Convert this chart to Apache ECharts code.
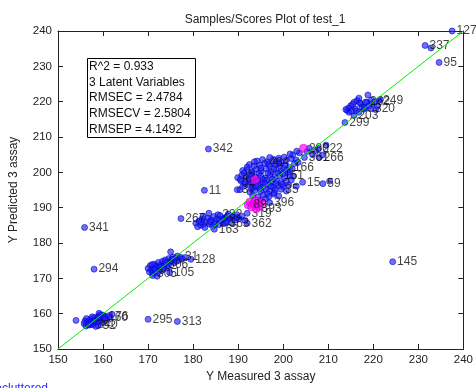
<!DOCTYPE html>
<html>
<head>
<meta charset="utf-8">
<script src="https://cdn.jsdelivr.net/npm/echarts/dist/echarts.min.js"></script>
<style>
  html, body { margin: 0; padding: 0; background: #fff; }
  #chart { width: 476px; height: 388px; }
</style>
</head>
<body>
<div id="chart"></div>
<script>
// Axis ticks (shared by measured and predicted axes)
const tickValues = [150, 160, 170, 180, 190, 200, 210, 220, 230, 240];

// Calibration / validation samples: measured vs predicted assay, with sample labels
const blueMeasured = [
  237.5, 231.5, 232.8, 234.6, 183.4, 182.5, 204.3, 208.8, 210.3, 213.7, 224.3, 155.9, 158.0, 177.3, 170.0, 176.5, 154.0,
  155.8, 156.2, 156.5, 157.0, 157.2, 157.5, 157.8, 158.0, 158.3, 158.6, 158.9, 159.0, 159.2, 159.5, 159.8, 160.0, 160.2, 160.5, 160.8, 161.2, 161.6, 162.0, 156.8, 157.6, 158.4, 159.1, 156.0, 157.0, 158.2,
  170.0, 170.3, 170.5, 170.8, 171.0, 171.2, 171.4, 171.6, 171.9, 172.1, 172.3, 172.5, 172.8, 173.0, 173.2, 173.5, 173.8, 174.0, 174.3, 174.6, 174.8, 174.9, 175.0, 175.2, 175.5, 175.8, 176.1, 176.5, 176.8, 177.2, 177.6, 171.0, 172.0, 179.5, 178.3,
  180.6, 181.0, 181.3, 181.7, 182.0, 182.3, 182.6, 183.0, 183.3, 183.6, 184.0, 184.3, 184.7, 184.6, 185.0, 185.5, 185.3, 185.7, 186.0, 186.3, 186.7, 187.0, 187.1, 187.4, 187.8, 188.1, 188.5, 188.9, 189.3, 189.7, 190.2, 190.8, 191.5, 183.5, 182.2, 192.0, 192.0,
  194.2, 195.4, 196.5, 197.8, 198.6, 199.5, 200.7, 201.8,
  192.5, 193.5, 194.8, 195.9, 197.0, 198.2, 199.3, 200.4, 201.4, 202.5,
  191.0, 192.0, 193.0, 194.0, 195.1, 196.2, 197.3, 198.4, 199.6, 200.8,
  189.9, 190.8, 191.8, 192.8, 193.9, 195.0, 196.0, 197.1, 198.1, 199.2, 200.3, 201.4,
  190.6, 191.6, 192.5, 193.4, 194.4, 195.3, 196.3, 197.4, 198.5, 199.6, 200.7, 202.9,
  191.0, 192.2, 193.3, 194.5, 195.6, 196.7, 197.8, 198.9, 200.0, 201.2,
  189.8, 190.4, 192.6, 193.8, 195.0, 196.2, 197.0, 198.2, 199.5, 200.7,
  193.2, 194.4, 195.6, 196.8, 197.9, 199.0,
  194.9, 196.1, 197.0,
  202.1, 202.9, 203.6, 204.7, 205.3, 205.8, 206.5, 207.2, 208.0, 207.8, 208.7, 209.5, 203.0, 201.5,
  214.2, 215.0, 215.7, 216.4, 217.2, 218.8, 218.6, 219.7, 221.6, 220.5, 214.6, 215.7, 216.8, 217.9, 221.2, 219.4, 218.3,
  214.5, 216.0, 217.5, 219.0, 220.2, 216.8, 213.9, 215.2,
  190.5, 191.3, 192.3, 193.1, 194.6, 195.5, 196.6, 197.6, 198.8, 199.9, 191.4, 192.9, 194.0, 195.9, 197.2, 198.4, 199.8, 193.0,
  194.8, 196.5, 198.0, 192.0, 193.6, 195.0, 196.8, 197.9, 199.0, 200.1, 201.0, 202.0, 201.8, 202.2, 203.3, 200.2, 199.0, 197.0,
  156.3, 157.3, 158.7, 159.4, 160.3, 157.9, 158.9, 156.7,
  171.5, 172.6, 173.4, 173.9, 174.5, 175.3, 176.3, 170.9,
  181.8, 183.8, 185.9, 186.8, 188.3, 189.8, 184.8, 187.6,
  215.4, 217.0, 218.1, 219.6, 216.2, 220.9
];
const bluePredicted = [
  240.0, 235.9, 235.2, 231.1, 206.6, 194.9, 197.2, 196.8, 197.5, 214.1, 174.7, 184.4, 172.6, 186.9, 158.4, 157.8, 158.1,
  157.2, 156.5, 157.8, 156.8, 158.4, 157.3, 156.9, 158.9, 157.6, 158.3, 156.6, 159.3, 158.0, 158.7, 157.4, 159.6, 159.2, 159.0, 158.2, 159.4, 159.0, 159.8, 158.0, 159.1, 156.4, 160.1, 157.9, 157.5, 158.2,
  172.8, 171.8, 173.6, 172.3, 171.4, 173.0, 174.0, 172.0, 173.4, 171.5, 174.5, 172.7, 173.8, 172.2, 174.8, 173.8, 175.2, 174.1, 172.9, 175.6, 171.6, 174.6, 177.5, 175.0, 176.0, 174.4, 175.7, 176.3, 175.1, 176.0, 175.5, 170.8, 170.6, 175.4, 175.9,
  185.6, 184.6, 186.2, 185.0, 186.8, 185.3, 184.4, 186.0, 187.0, 185.4, 186.5, 184.8, 183.9, 187.5, 185.9, 188.0, 186.8, 185.2, 187.8, 186.3, 185.5, 187.1, 185.6, 186.0, 188.2, 186.8, 185.7, 187.4, 186.5, 188.0, 186.9, 187.6, 186.4, 188.4, 187.6, 188.4, 185.6,
  203.2, 203.6, 203.0, 203.7, 203.1, 202.8, 203.5, 203.9,
  202.2, 201.8, 202.0, 202.6, 201.7, 202.3, 201.9, 202.0, 201.4, 202.5,
  200.5, 200.8, 200.2, 200.9, 200.4, 201.0, 200.1, 200.7, 200.3, 200.6,
  198.5, 199.2, 198.8, 199.4, 198.6, 199.1, 198.4, 199.3, 198.7, 199.0, 198.5, 199.2,
  197.6, 197.2, 197.9, 197.0, 197.6, 197.1, 197.8, 197.2, 197.7, 197.1, 197.5, 196.1,
  196.0, 196.4, 195.8, 196.3, 195.9, 196.5, 195.8, 196.2, 195.9, 196.4,
  195.1, 195.1, 194.4, 194.9, 194.6, 195.2, 194.7, 195.0, 195.2, 194.7,
  193.4, 193.0, 193.6, 193.1, 193.8, 193.3,
  192.0, 192.5, 191.4,
  204.9, 203.5, 205.5, 204.2, 205.9, 206.8, 205.0, 206.2, 204.2, 206.8, 204.9, 207.7, 206.0, 205.2,
  217.5, 218.9, 219.8, 220.3, 219.4, 221.9, 219.8, 219.4, 220.6, 217.8, 217.0, 216.1, 217.0, 217.9, 220.3, 218.0, 219.9,
  218.2, 218.0, 218.5, 218.8, 219.9, 221.0, 217.8, 217.3,
  198.0, 199.8, 198.2, 199.9, 199.7, 198.0, 199.8, 198.1, 199.8, 199.6, 196.8, 196.9, 196.0, 196.9, 196.1, 196.8, 196.6, 195.3,
  195.4, 194.0, 194.2, 201.5, 203.0, 201.2, 202.3, 201.0, 202.5, 201.1, 200.0, 200.9, 197.8, 198.9, 202.8, 204.3, 204.0, 204.2,
  158.6, 157.0, 157.7, 159.7, 158.5, 157.9, 158.9, 156.9,
  172.6, 173.2, 172.6, 174.6, 173.6, 175.4, 174.8, 173.9,
  186.0, 186.0, 186.5, 186.9, 187.4, 187.2, 185.3, 187.6,
  219.2, 219.7, 218.3, 220.5, 217.4, 218.7
];
const blueIds = [
  '127', '337', '', '95', '342', '11', '15', '59', '', '299', '145', '341', '294', '267', '295', '313', '',
  '', '', '', '', '', '', '340', '', '', '', '52', '', '', '', '', '', '176', '', '', '', '60', '', '', '', '', '', '', '', '',
  '', '', '', '', '305', '', '', '', '', '', '', '', '', '', '', '306', '', '', '', '', '105', '', '', '', '', '', '', '', '', '31', '', '', '', '128', '',
  '', '', '', '', '', '', '', '', '', '', '', '', '163', '', '', '232', '', '', '', '', '', '', '363', '', '', '', '', '', '', '', '', '', '', '', '', '319', '362',
  '', '', '', '', '', '', '', '',
  '', '', '', '404', '', '', '', '', '166', '',
  '', '', '', '', '', '', '', '', '', '',
  '43', '', '', '', '', '', '', '', '', '151', '', '',
  '', '', '', '', '', '', '', '', '', '', '', '',
  '', '', '', '', '', '', '', '', '', '',
  '37', '', '', '', '', '', '', '', '35', '',
  '', '', '', '', '', '',
  '', '', '396',
  '', '', '', '361', '', '', '', '', '266', '222', '', '', '', '',
  '', '', '', '', '', '', '', '', '', '', '', '203', '', '', '249', '320', '262',
  '', '', '', '', '', '', '', '',
  '', '', '', '', '', '', '', '', '', '', '', '', '', '', '', '', '', '',
  '', '', '', '', '', '', '', '', '', '', '', '', '', '', '', '', '', '',
  '', '', '', '', '', '', '', '',
  '', '', '', '', '', '', '', '',
  '', '', '', '', '', '', '', '',
  '', '', '', '', '', ''
];

// Highlighted samples
const pinkMeasured = [192.2, 192.6, 193.0, 193.5, 194.0, 194.3, 194.8, 195.2, 193.8, 193.7, 204.5];
const pinkPredicted = [190.8, 191.6, 190.2, 191.2, 189.7, 190.9, 190.3, 191.5, 192.0, 197.9, 206.8];
const pinkIds = ['89', '', '', '', '393', '', '', '', '', '', '280'];

// Ideal fit line (predicted = measured)
const fitLine = [[150, 150], [240, 240]];

const statsLines = [
  'R^2 = 0.933',
  '3 Latent Variables',
  'RMSEC = 2.4784',
  'RMSECV = 2.5804',
  'RMSEP = 4.1492'
];

const FONT = '"Liberation Sans", Arial, sans-serif';
const TEXT = '#222';

function points(xs, ys, ids) {
  return xs.map((x, i) => ({ value: [x, ys[i]], name: ids[i] }));
}

const labelStyle = {
  show: true,
  position: 'right',
  distance: 1,
  color: '#111',
  fontSize: 12,
  fontFamily: FONT,
  formatter: p => p.name
};

function valueAxis(extra) {
  return Object.assign({
    type: 'value',
    min: 150,
    max: 240,
    interval: 10,
    splitLine: { show: false },
    axisLine: { show: true, onZero: false, lineStyle: { color: '#222', width: 1 } },
    axisTick: { show: true, inside: true, length: 5, lineStyle: { color: '#222' } },
    axisLabel: { color: TEXT, fontSize: 11.5, fontFamily: FONT }
  }, extra);
}

const chart = echarts.init(document.getElementById('chart'), null, { renderer: 'canvas' });

chart.setOption({
  animation: false,
  backgroundColor: '#fff',
  title: {
    text: 'Samples/Scores Plot of test_1',
    left: 260,
    top: 9,
    textAlign: 'center',
    textStyle: { color: TEXT, fontSize: 12, fontWeight: 'normal', fontFamily: FONT }
  },
  grid: { left: 56.5, right: 11, top: 31, bottom: 35, containLabel: false },
  xAxis: [
    valueAxis({
      position: 'bottom',
      name: 'Y Measured 3 assay',
      nameLocation: 'middle',
      nameGap: 22,
      nameTextStyle: { color: TEXT, fontSize: 12, fontFamily: FONT },
      axisLabel: { color: TEXT, fontSize: 11.5, fontFamily: FONT, margin: 5 }
    }),
    valueAxis({ position: 'top', axisLabel: { show: false } })
  ],
  yAxis: [
    valueAxis({
      position: 'left',
      name: 'Y Predicted 3 assay',
      nameLocation: 'middle',
      nameGap: 38,
      nameTextStyle: { color: TEXT, fontSize: 12, fontFamily: FONT },
      axisLabel: { color: TEXT, fontSize: 11.5, fontFamily: FONT, margin: 6 }
    }),
    valueAxis({ position: 'right', axisLabel: { show: false } })
  ],
  series: [
    {
      type: 'scatter',
      xAxisIndex: 0,
      yAxisIndex: 0,
      symbolSize: 6,
      itemStyle: { color: 'rgba(30,30,255,0.8)', borderColor: 'rgba(0,0,190,0.9)', borderWidth: 0.8 },
      label: labelStyle,
      data: points(blueMeasured, bluePredicted, blueIds),
      z: 2
    },
    {
      type: 'scatter',
      xAxisIndex: 0,
      yAxisIndex: 0,
      symbolSize: 8,
      itemStyle: { color: 'rgba(255,0,255,0.85)', borderColor: 'rgba(200,0,200,0.9)', borderWidth: 0.8 },
      label: labelStyle,
      data: points(pinkMeasured, pinkPredicted, pinkIds),
      z: 3
    },
    {
      type: 'line',
      xAxisIndex: 0,
      yAxisIndex: 0,
      symbol: 'none',
      silent: true,
      lineStyle: { color: '#00ee00', width: 1 },
      data: fitLine,
      z: 4
    }
  ],
  graphic: [
    {
      type: 'rect',
      shape: { x: 87.5, y: 58.5, width: 108, height: 79 },
      style: { fill: '#fff', stroke: '#000', lineWidth: 1 },
      z: 10
    },
    {
      type: 'text',
      left: 89,
      top: 59,
      style: {
        text: statsLines.join('\n'),
        fill: '#111',
        fontSize: 12,
        fontFamily: FONT,
        lineHeight: 15.6
      },
      z: 11
    },
    {
      type: 'text',
      right: 428,
      top: 383,
      style: { text: 'decluttered', fill: '#2a2aff', fontSize: 12, fontFamily: FONT },
      z: 11
    }
  ]
});
</script>
</body>
</html>
